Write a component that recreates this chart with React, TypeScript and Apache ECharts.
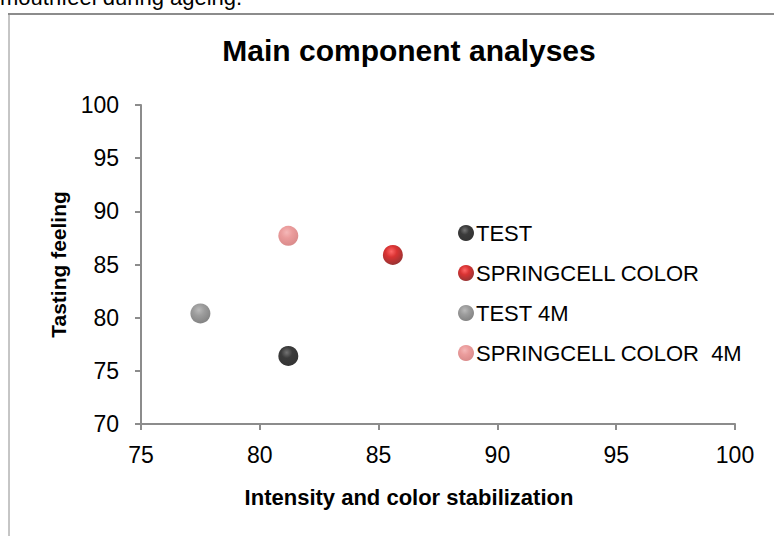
import React, { useEffect, useRef } from "react";
import * as echarts from "echarts";

const seriesNames = ["TEST", "SPRINGCELL COLOR", "TEST 4M", "SPRINGCELL COLOR  4M"];
const xValues = [81.2, 85.6, 77.5, 81.2];
const yValues = [76.4, 85.9, 80.4, 87.7];
const xTicks = [75, 80, 85, 90, 95, 100];
const yTicks = [70, 75, 80, 85, 90, 95, 100];

const sphere = (hi: string, mid: string, lo: string) => ({
  type: "radial",
  x: 0.42,
  y: 0.33,
  r: 0.7,
  colorStops: [
    { offset: 0, color: hi },
    { offset: 0.4, color: mid },
    { offset: 1, color: lo },
  ],
});

const colors = [
  sphere("#505050", "#0a0a0a", "#000000"),
  sphere("#ff4040", "#d00000", "#7a0000"),
  sphere("#a8a8a8", "#848484", "#626262"),
  sphere("#f2a6a6", "#e68484", "#cf6c6c"),
];

const FONT = "'Liberation Sans', Arial, sans-serif";

export default function App() {
  const ref = useRef<HTMLDivElement>(null);
  useEffect(() => {
    if (!ref.current) return;
    const chart = echarts.init(ref.current, undefined, { renderer: "svg" });
    chart.setOption({
      animation: false,
      backgroundColor: "#ffffff",
      title: {
        text: "Main component analyses",
        left: 404,
        top: 30,
        textAlign: "center",
        textStyle: {
          fontFamily: FONT,
          fontWeight: "bold",
          fontSize: 30,
          color: "#000",
        },
      },
      graphic: [
        {
          type: "text",
          left: 0,
          top: -14,
          style: {
            text: "mouthfeel during ageing.",
            fontFamily: FONT,
            fontSize: 22,
            fill: "#000",
          },
        },
        {
          type: "line",
          shape: { x1: 8, y1: 14, x2: 774, y2: 14 },
          style: { stroke: "#8c8c8c", lineWidth: 2 },
        },
        {
          type: "line",
          shape: { x1: 9, y1: 14, x2: 9, y2: 536 },
          style: { stroke: "#8c8c8c", lineWidth: 1 },
        },
      ],
      legend: {
        orient: "vertical",
        left: 453,
        top: 217,
        itemWidth: 16,
        itemHeight: 16,
        itemGap: 18,
        icon: "circle",
        textStyle: { fontFamily: FONT, fontSize: 22, color: "#000", padding: [0, 0, 0, -3] },
        data: seriesNames,
      },
      grid: { left: 141, right: 39, top: 105, bottom: 112, containLabel: false },
      xAxis: {
        type: "value",
        min: xTicks[0],
        max: xTicks[xTicks.length - 1],
        interval: 5,
        name: "Intensity and color stabilization",
        nameLocation: "middle",
        nameGap: 62,
        nameTextStyle: {
          fontFamily: FONT,
          fontWeight: "bold",
          fontSize: 22,
          color: "#000",
          padding: [0, 58, 0, 0],
        },
        axisLine: { show: true, lineStyle: { color: "#8c8c8c", width: 2 } },
        axisTick: { show: true, length: 6, lineStyle: { color: "#8c8c8c", width: 2 } },
        axisLabel: { fontFamily: FONT, fontSize: 23, color: "#000", margin: 19 },
        splitLine: { show: false },
      },
      yAxis: {
        type: "value",
        min: yTicks[0],
        max: yTicks[yTicks.length - 1],
        interval: 5,
        name: "Tasting feeling",
        nameLocation: "middle",
        nameGap: 72,
        nameTextStyle: { fontFamily: FONT, fontWeight: "bold", fontSize: 21, color: "#000" },
        axisLine: { show: true, lineStyle: { color: "#8c8c8c", width: 2 } },
        axisTick: { show: true, length: 6, lineStyle: { color: "#8c8c8c", width: 2 } },
        axisLabel: { fontFamily: FONT, fontSize: 23, color: "#000", margin: 22 },
        splitLine: { show: false },
      },
      series: seriesNames.map((name, i) => ({
        name,
        type: "scatter",
        symbol: "circle",
        symbolSize: 20,
        data: [[xValues[i], yValues[i]]],
        itemStyle: { color: colors[i] },
      })),
    });
    return () => chart.dispose();
  }, []);
  return (
    <div
      ref={ref}
      style={{ position: "fixed", left: 0, top: 0, width: 774, height: 536 }}
    />
  );
}
